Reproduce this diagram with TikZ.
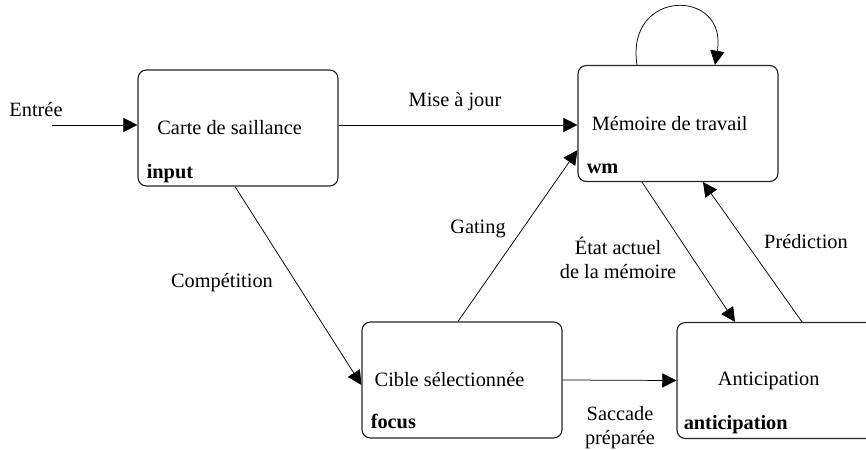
\documentclass[tikz,border=0pt]{standalone}
\usepackage{fontspec}
\setmainfont{Liberation Serif}
\usetikzlibrary{arrows.meta}

\newcommand{\dfont}{\fontsize{12.2}{14.4}\selectfont}

\tikzset{
  box/.style={draw=black!85, line width=0.7pt, rounded corners=5pt,
    minimum width=120pt, minimum height=69.6pt, inner sep=0pt, font=\dfont},
  tag/.style={font=\dfont\bfseries, anchor=base west, inner sep=0pt},
  lbl/.style={font=\dfont, align=center, inner sep=0pt},
  arr/.style={-{Triangle[length=8.5pt,width=8.5pt]}, line width=0.45pt},
}

\begin{document}
\begin{tikzpicture}[x=0.6pt, y=-0.6pt]
        % frame of the picture (pixel grid)
        \clip (0,0) rectangle (866,450);

        % Modules
        \node[box] (in)  at (238,128)   {\hspace*{-10pt}Carte de saillance};
        \node[box] (wm)  at (678,123.5) {\hspace*{-10pt}Mémoire de travail};
        \node[box] (foc) at (462,380)   {\hspace*{-15pt}Cible sélectionnée};
        \node[box] (ant) at (777,380.5) {\hspace*{-10pt}Anticipation};

        % Module tags
        \node[tag] (inTag)  at ([shift={(9,-8)}]in.south west)  {input};
        \node[tag] (wmTag)  at ([shift={(9,-9)}]wm.south west) {wm};
        \node[tag] (focTag) at ([shift={(9,-10)}]foc.south west) {focus};
        \node[tag] (antTag) at ([shift={(7,-10)}]ant.south west) {anticipation};

        % External input
        \coordinate (entry) at (52,125);
        \draw[arr] (entry) -- (in.west |- entry);
        \node[lbl] (entryLbl) at (36,110) {Entrée};

        % Update of working memory
        \draw[arr] (in.east |- entry) -- (wm.west |- entry);
        \node[lbl] (updLbl) at (455,102) {Mise à jour};

        % Competition
        \draw[arr] ([xshift=-1.8pt]in.south) -- ([yshift=-3pt]foc.west);
        \node[lbl] (compLbl) at (222,283) {Compétition};

        % Gating
        \draw[arr] ([xshift=-2.4pt]foc.north) -- ([yshift=-16pt]wm.west);
        \node[lbl] (gateLbl) at (478,229) {Gating};

        % Current memory state
        \draw[arr] ([xshift=-21.6pt]wm.south) -- ([xshift=-25.2pt]ant.north);
        \node[lbl] (stateLbl) at (618,258) {État actuel\\de la mémoire};

        % Prediction
        \draw[arr] ([xshift=15pt]ant.north) -- ([xshift=15pt]wm.south);
        \node[lbl] (predLbl) at (806,242) {Prédiction};

        % Prepared saccade
        \draw[arr] (foc.east) -- (ant.west);
        \node[lbl] (saccLbl) at (620,428) {Saccade\\préparée};

        % Memory maintenance (self loop)
        \draw[arr] ([xshift=-24.6pt]wm.north) .. controls +(-12,-77) and +(13,-77) .. ([xshift=22.2pt]wm.north);

    \end{tikzpicture}
\end{document}
